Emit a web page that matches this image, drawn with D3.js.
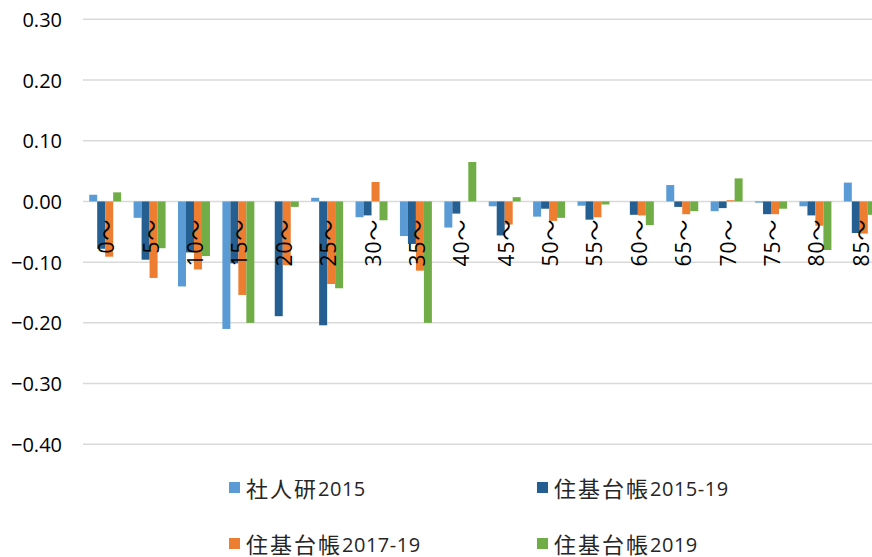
<!DOCTYPE html>
<html>
<head>
<meta charset="utf-8">
<script src="https://cdn.jsdelivr.net/npm/d3@7"></script>
<style>
  body { margin: 0; background: #fff; }
  svg { display: block; font-family: "Open Sans", "Noto Sans CJK JP", sans-serif; }
</style>
</head>
<body>
<div id="chart"></div>
<script>
// ---------------- DATA ----------------
const categories = ["0～","5～","10～","15～","20～","25～","30～","35～","40～","45～","50～","55～","60～","65～","70～","75～","80～","85～"];
const seriesNames = ["社人研2015","住基台帳2015-19","住基台帳2017-19","住基台帳2019"];
const shajinken2015 = [0.011,-0.027,-0.140,-0.210,0.000,0.006,-0.026,-0.057,-0.043,-0.008,-0.025,-0.007,0.000,0.027,-0.016,-0.002,-0.008,0.031];
const juki2015_19   = [-0.078,-0.096,-0.084,-0.102,-0.189,-0.204,-0.023,-0.070,-0.020,-0.056,-0.012,-0.030,-0.022,-0.009,-0.011,-0.021,-0.023,-0.052];
const juki2017_19   = [-0.091,-0.126,-0.112,-0.154,-0.105,-0.136,0.032,-0.114,0.000,-0.038,-0.032,-0.026,-0.023,-0.021,0.002,-0.021,-0.040,-0.053];
const juki2019      = [0.015,-0.077,-0.090,-0.200,-0.009,-0.143,-0.031,-0.200,0.065,0.007,-0.027,-0.005,-0.039,-0.016,0.038,-0.012,-0.080,-0.022];
const yTicks = [0.3,0.2,0.1,0,-0.1,-0.2,-0.3,-0.4];

const seriesValues = [shajinken2015, juki2015_19, juki2017_19, juki2019];
const colors = ["#5b9bd5","#255e91","#ed7d31","#70ad47"];

// ---------------- LAYOUT ----------------
const width = 872, height = 557;
const plotLeft = 83, plotRight = 882;  // plot runs past the right edge, like the original

const svg = d3.select("#chart").append("svg")
  .attr("width", width)
  .attr("height", height);

const x0 = d3.scaleBand().domain(categories).range([plotLeft, plotRight])
  .paddingInner(0.28).paddingOuter(0.14);
const x1 = d3.scaleBand().domain(d3.range(seriesNames.length)).range([0, x0.bandwidth()]);
const y = d3.scaleLinear().domain([-0.4, 0.3]).range([444.3, 19.3]);

// gridlines
svg.append("g").selectAll("line")
  .data(yTicks)
  .enter().append("line")
  .attr("x1", plotLeft).attr("x2", width)
  .attr("y1", d => y(d)).attr("y2", d => y(d))
  .attr("stroke", "#d9d9d9")
  .attr("stroke-width", 1.5);

// y labels
svg.append("g").selectAll("text")
  .data(yTicks)
  .enter().append("text")
  .attr("x", 62)
  .attr("y", d => y(d))
  .attr("text-anchor", "end")
  .attr("dominant-baseline", "central")
  .style("font-size", "20px")
  .style("fill", "#000")
  .text(d => d3.format(".2f")(d));

// bars
const groups = svg.append("g").selectAll("g")
  .data(categories)
  .enter().append("g")
  .attr("transform", d => `translate(${x0(d)},0)`);

groups.selectAll("rect")
  .data((c, i) => seriesValues.map((s, k) => ({k, v: s[i]})))
  .enter().append("rect")
  .attr("x", d => x1(d.k))
  .attr("width", x1.bandwidth())
  .attr("y", d => y(Math.max(0, d.v)))
  .attr("height", d => Math.abs(y(d.v) - y(0)))
  .attr("fill", d => colors[d.k]);

// category labels (rotated, drawn over the bars)
svg.append("g").selectAll("text")
  .data(categories)
  .enter().append("text")
  .attr("transform", d => `translate(${x0(d) + x0.bandwidth() / 2 + 1},${y(0) + 17}) rotate(-90)`)
  .attr("text-anchor", "end")
  .attr("dominant-baseline", "central")
  .style("font-size", "21px")
  .style("letter-spacing", "1px")
  .style("fill", "#000")
  .text(d => d);

// ---------------- LEGEND ----------------
const legendPos = [[229, 488], [537, 488], [229, 544], [537, 544]];
const legend = svg.append("g").selectAll("g")
  .data(seriesNames)
  .enter().append("g")
  .attr("transform", (d, i) => `translate(${legendPos[i][0]},${legendPos[i][1]})`);

legend.append("rect")
  .attr("x", 0).attr("y", -6)
  .attr("width", 11).attr("height", 11)
  .attr("fill", (d, i) => colors[i]);

const legendText = legend.append("text")
  .attr("x", 17)
  .attr("y", 0)
  .attr("dominant-baseline", "central")
  .style("fill", "#262626");

legendText.append("tspan")
  .style("font-size", "22px")
  .style("letter-spacing", "2px")
  .text(d => d.match(/^[^0-9]+/)[0]);

legendText.append("tspan")
  .style("font-size", "20px")
  .style("letter-spacing", "0.5px")
  .text(d => d.replace(/^[^0-9]+/, ""));
</script>
</body>
</html>
